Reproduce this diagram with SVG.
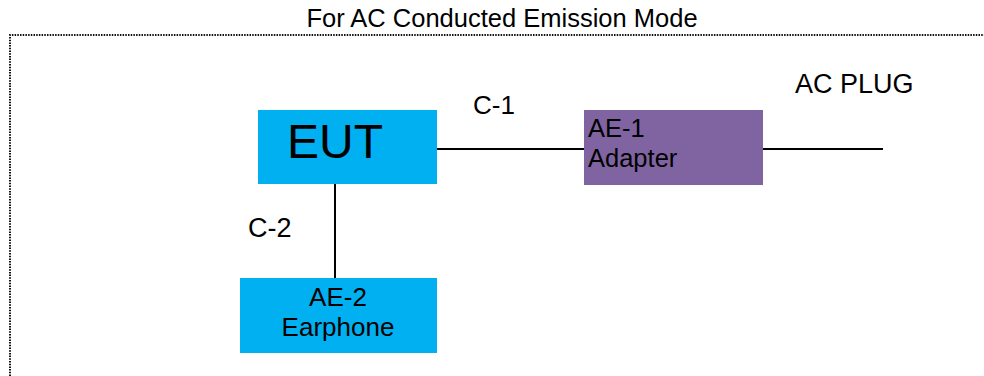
<svg xmlns="http://www.w3.org/2000/svg" width="984" height="376" viewBox="0 0 984 376">
<style>
text { font-family: "Liberation Sans", Arial, sans-serif; fill: #000; }
.blue { fill: #00B0F0; }
.purple { fill: #8064A2; }
.wire { stroke: #000; stroke-width: 2; fill: none; }
.frame { stroke: #111; stroke-width: 2; stroke-dasharray: 1.5 1.2; fill: none; }
</style>
<rect width="984" height="376" fill="#fff"/>
<text x="502" y="27" font-size="25.5" text-anchor="middle">For AC Conducted Emission Mode</text>
<path class="frame" d="M10,376 V35 H984"/>
<g id="connectors">
  <line class="wire" x1="437" y1="149" x2="586" y2="149"/>
  <line class="wire" x1="763" y1="149" x2="883" y2="149"/>
  <line class="wire" x1="335" y1="184" x2="335" y2="278"/>
  <text x="473" y="114" font-size="26">C-1</text>
  <text x="248" y="237" font-size="27">C-2</text>
  <text x="795" y="93" font-size="27">AC PLUG</text>
</g>
<g id="eut">
  <rect class="blue" x="258" y="110" width="179" height="74"/>
  <text x="287" y="158" font-size="48">EUT</text>
</g>
<g id="ae1">
  <rect class="purple" x="584" y="110" width="179" height="75"/>
  <text x="588" y="137" font-size="25.5">AE-1</text>
  <text x="588" y="167" font-size="25.5">Adapter</text>
</g>
<g id="ae2">
  <rect class="blue" x="240" y="278" width="197" height="75"/>
  <text x="338" y="306" font-size="26" text-anchor="middle">AE-2</text>
  <text x="338" y="336" font-size="26" text-anchor="middle">Earphone</text>
</g>
</svg>
